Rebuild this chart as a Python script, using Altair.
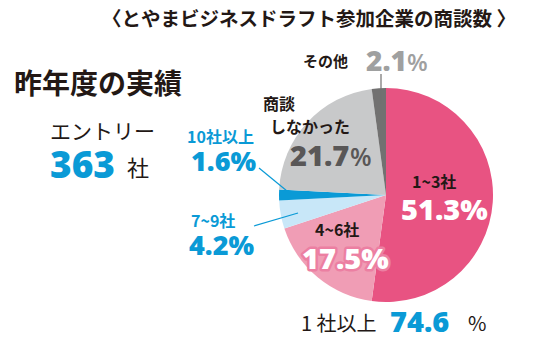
import altair as alt
import pandas as pd

# ---- data ----
categories = ["1~3社", "4~6社", "7~9社", "10社以上", "商談しなかった", "その他"]
shares = [51.3, 17.5, 4.2, 1.6, 21.7, 2.1]
slice_colors = ["#E85382", "#F09DB5", "#C8E7F8", "#0A9AD6", "#C8C9CA", "#727171"]
entries = 363
one_or_more = 74.6

df = pd.DataFrame({"cat": categories, "share": shares, "ord": list(range(len(categories)))})

W, H = 537, 351
CX, CY, R = 386, 195, 107

JP = "Noto Sans CJK JP"
NUM = "Open Sans"
BLUE = "#0A9AD6"
INK = "#231815"

pie = alt.Chart(df).mark_arc(radius=R, stroke=None).encode(
    theta=alt.Theta("share:Q", stack=True),
    order=alt.Order("ord:Q"),
    color=alt.Color("cat:N", scale=alt.Scale(domain=categories, range=slice_colors), legend=None),
    x=alt.value(CX),
    y=alt.value(CY),
)


def txt(s, x, y, size, color=INK, font=JP, weight="bold", align="left", **kw):
    return alt.Chart(pd.DataFrame({"t": [s]})).mark_text(
        font=font, fontSize=size, fontWeight=weight, color=color, align=align, baseline="middle", **kw
    ).encode(text="t:N", x=alt.value(x), y=alt.value(y))


def rule(x1, y1, x2, y2, color):
    return alt.Chart(pd.DataFrame({"a": [0]})).mark_rule(color=color, strokeWidth=1.2).encode(
        x=alt.value(x1), y=alt.value(y1), x2=alt.value(x2), y2=alt.value(y2)
    )


def num(v):
    return f"{v:.1f}"


layers = [
    pie,
    rule(381, 74, 381, 104, "#727171"),
    rule(259, 168, 287, 191, BLUE),
    rule(254, 226, 298, 213, BLUE),
    txt("〈とやまビジネスドラフト参加企業の商談数 〉", 309, 20, 19.5, align="center"),
    txt("昨年度の実績", 14, 86, 28),
    txt("エントリー", 50, 133, 21, weight="normal"),
    txt(str(entries), 50, 167, 37, color=BLUE, font=NUM, weight=800),
    txt("社", 127, 169, 22, weight="normal"),
    txt(categories[3], 187, 138, 16, color=BLUE),
    txt(num(shares[3]) + "%", 191, 163, 27, color=BLUE, font=NUM, weight=800),
    txt(categories[2], 191, 222, 16, color=BLUE),
    txt(num(shares[2]) + "%", 189, 247, 27, color=BLUE, font=NUM, weight=800),
    txt(categories[5], 303, 62, 15),
    txt(num(shares[5]), 366, 63, 28, color="#9FA0A0", font=NUM, weight=800),
    txt("%", 407, 64, 24, color="#9FA0A0", font=NUM, weight=600),
    txt("商談", 263, 105, 16),
    txt("しなかった", 270, 128, 16),
    txt(num(shares[4]), 290, 157, 29, color="#595757", font=NUM, weight=800),
    txt("%", 350, 158, 25, color="#595757", font=NUM, weight=600),
    txt(categories[0], 412, 183, 16),
    txt(num(shares[0]) + "%", 401, 211, 29, color="white", font=NUM, weight=800),
    txt(categories[1], 315, 231, 16),
    txt(num(shares[1]) + "%", 302, 260, 29, color="#EC7FA2", font=NUM, weight=800, stroke="#EC7FA2", strokeWidth=5, strokeJoin="round"),
    txt(num(shares[1]) + "%", 302, 260, 29, color="white", font=NUM, weight=800),
    txt("1 社以上", 301, 325, 20, weight="normal"),
    txt(num(one_or_more), 390, 323, 29, color=BLUE, font=NUM, weight=800),
    txt("%", 468, 325, 20, weight="normal"),
]

chart = alt.layer(*layers).properties(
    width=W, height=H, padding=0, autosize=alt.AutoSizeParams(type="none")
).configure_view(stroke=None)

chart.save("out.html", embed_options={"renderer": "svg", "actions": False})
